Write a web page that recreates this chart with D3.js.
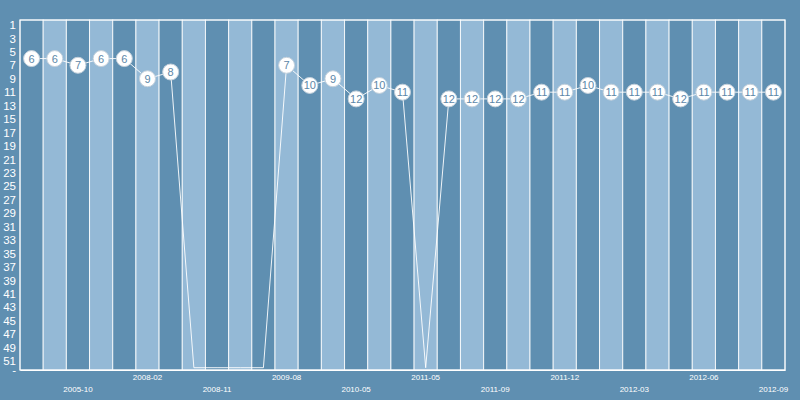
<!DOCTYPE html>
<html>
<head>
<meta charset="utf-8">
<style>
body { margin: 0; background: #5f8fb1; }
svg { display: block; }
.axis text { fill: #fff; font-family: "Liberation Sans", Arial, sans-serif; }
</style>
</head>
<body>
<svg id="chart" width="800" height="400"></svg>
<script src="https://d3js.org/d3.v7.min.js"></script>
<script>

// months (only every third one is labelled in the picture)
const months = ["2005-06","2005-08","2005-10","2006-05","2007-02","2008-02","2008-06","2008-08",
  "2008-11","2009-02","2009-05","2009-08","2009-11","2010-02","2010-05","2010-09","2011-01",
  "2011-05","2011-07","2011-08","2011-09","2011-10","2011-11","2011-12","2012-01","2012-02",
  "2012-03","2012-04","2012-05","2012-06","2012-07","2012-08","2012-09"];

// rank per month, null = not ranked
const ranks = [6,6,7,6,6,9,8,null,null,null,null,7,10,9,12,10,11,null,
  12,12,12,12,11,11,10,11,11,11,12,11,11,11,11];

const rankTicks = [1,3,5,7,9,11,13,15,17,19,21,23,25,27,29,31,33,35,37,39,41,43,45,47,49,51,52];
const MISSING = 52;

let margin = {top: 20, right: 15, bottom: 30, left: 20},
    width = 800 - margin.left - margin.right,
    height = 400 - margin.top - margin.bottom;

let svg = d3.select("#chart");
svg.append("rect").attr("width", 800).attr("height", 400).attr("fill", "#5f8fb1");

let chart = svg.append("g")
    .attr("transform", "translate(" + margin.left + "," + margin.top + ")");

let x = d3.scaleBand().domain(months).range([0, width]).padding(0);
let y = d3.scaleLinear().domain([0.26, 52.34]).range([0, height]);

// stripes
chart.selectAll("rect.band")
    .data(months)
    .join("rect")
    .attr("class", "band")
    .attr("x", d => x(d))
    .attr("y", 0)
    .attr("width", x.bandwidth())
    .attr("height", height)
    .attr("fill", (d, i) => i % 2 ? "#94b9d6" : "#5f8fb1")
    .attr("stroke", "#fff")
    .attr("stroke-opacity", 0.85)
    .attr("stroke-width", 1);

chart.append("rect")
    .attr("width", width).attr("height", height)
    .attr("fill", "none").attr("stroke", "#fff").attr("stroke-width", 1);

// y axis
let yAxis = chart.append("g")
    .attr("class", "axis")
    .call(d3.axisLeft(y).tickValues(rankTicks).tickSize(0).tickPadding(4)
        .tickFormat(d => d === MISSING ? "-" : d));
yAxis.select(".domain").remove();
yAxis.selectAll("text").style("font-size", "11.5px");
yAxis.selectAll("text").filter(d => d === MISSING).attr("dy", "0.5em");

// x axis
let labelled = months.filter((d, i) => i % 3 === 2);
let xAxis = chart.append("g")
    .attr("class", "axis")
    .attr("transform", "translate(0," + height + ")")
    .call(d3.axisBottom(x).tickValues(labelled).tickSize(0));
xAxis.select(".domain").attr("stroke", "#fff");
xAxis.selectAll("text")
    .style("font-size", "8px")
    .attr("y", (d, i) => i % 2 ? 4 : 16);

// line
let pts = ranks.map((r, i) => ({m: months[i], r: r}));
let line = d3.line()
    .x(d => x(d.m) + x.bandwidth() / 2)
    .y(d => y(d.r === null ? MISSING : d.r));

chart.append("path")
    .datum(pts)
    .attr("d", line)
    .attr("fill", "none")
    .attr("stroke", "#fff")
    .attr("stroke-opacity", 0.9)
    .attr("stroke-width", 1);

let dots = chart.selectAll("g.dot")
    .data(pts.filter(d => d.r !== null))
    .join("g")
    .attr("class", "dot")
    .attr("transform", d => "translate(" + (x(d.m) + x.bandwidth() / 2) + "," + y(d.r) + ")");

dots.append("circle")
    .attr("r", 8)
    .attr("fill", "#fff")
    .attr("stroke", "#c3d0db")
    .attr("stroke-width", 1);

dots.append("text")
    .attr("text-anchor", "middle")
    .attr("dy", "0.36em")
    .style("font-family", "'Liberation Sans', Arial, sans-serif")
    .style("font-size", "11px")
    .attr("fill", "#5d87a8")
    .text(d => d.r);

</script>
</body>
</html>
